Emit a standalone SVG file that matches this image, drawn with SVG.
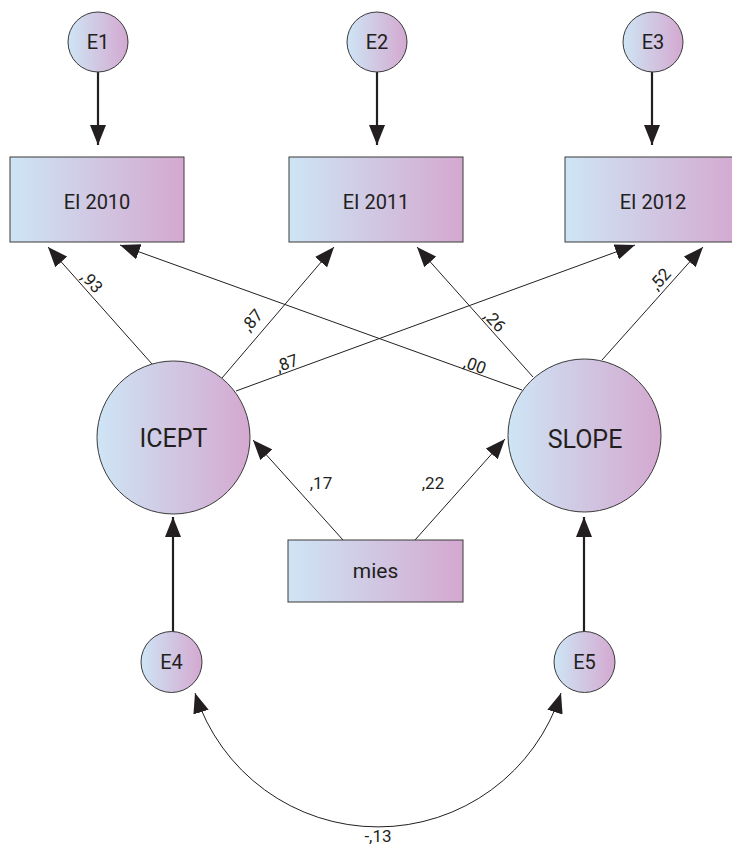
<svg xmlns="http://www.w3.org/2000/svg" width="732" height="848" viewBox="0 0 732 848">
<defs>
<linearGradient id="g" x1="0" y1="0" x2="1" y2="0">
<stop offset="0" stop-color="#cee5f5"/>
<stop offset="1" stop-color="#d4a8d0"/>
</linearGradient>
<marker id="ah" markerUnits="userSpaceOnUse" markerWidth="20" markerHeight="16" refX="20" refY="8" orient="auto-start-reverse" viewBox="0 0 20 16">
<path d="M0,0 L20,8 L0,16 Z" fill="#231f20"/>
</marker>
<style>
.n{fill:url(#g);stroke:#3a3a3a;stroke-width:1}
.t{font-family:Roboto,"Liberation Sans",sans-serif;fill:#231f20;text-anchor:middle}
.thin{fill:none;stroke:#231f20;stroke-width:1;marker-end:url(#ah)}
.thick{fill:none;stroke:#231f20;stroke-width:2.2;marker-end:url(#ah)}
.lb{font-family:Roboto,"Liberation Sans",sans-serif;fill:#231f20;font-size:17px;text-anchor:middle}
</style>
</defs>
<rect width="732" height="848" fill="#ffffff"/>

<g id="connectors">
<line class="thick" x1="98" y1="72" x2="98" y2="145"/>
<line class="thick" x1="377" y1="72" x2="377" y2="145"/>
<line class="thick" x1="652" y1="72" x2="652" y2="145"/>
<line class="thin" x1="152" y1="364" x2="48" y2="247"/>
<line class="thin" x1="222" y1="378" x2="334" y2="247"/>
<line class="thin" x1="236" y1="391" x2="635" y2="245"/>
<line class="thin" x1="522" y1="390" x2="120" y2="245"/>
<line class="thin" x1="533" y1="377" x2="417" y2="247"/>
<line class="thin" x1="602" y1="360" x2="703" y2="247"/>
<line class="thin" x1="343" y1="540" x2="253" y2="440"/>
<line class="thin" x1="415" y1="540" x2="505" y2="439"/>
<line class="thick" x1="173" y1="632" x2="173" y2="517"/>
<line class="thick" x1="584" y1="632" x2="584" y2="517"/>
<path class="thin" d="M195,693 A192,192 0 0 0 561,693" style="marker-start:url(#ah)"/>
<g id="labels">
<text class="lb" transform="translate(92,282) rotate(48)" y="6">,93</text>
<text class="lb" transform="translate(252,320) rotate(-49.5)" y="6">,87</text>
<text class="lb" transform="translate(287,363) rotate(-20)" y="6">,87</text>
<text class="lb" transform="translate(475,365) rotate(20)" y="6">,00</text>
<text class="lb" transform="translate(495,321) rotate(48)" y="6">,26</text>
<text class="lb" transform="translate(660,279) rotate(-48)" y="6">,52</text>
<text class="lb" x="321" y="489">,17</text>
<text class="lb" x="433" y="489">,22</text>
<text class="lb" x="378" y="842">-,13</text>
</g>
</g>

<g id="E1"><circle class="n" cx="98" cy="42" r="30"/><text class="t" x="98" y="49" font-size="20">E1</text></g>
<g id="E2"><circle class="n" cx="377" cy="42" r="30"/><text class="t" x="377" y="49" font-size="20">E2</text></g>
<g id="E3"><circle class="n" cx="653" cy="42" r="30"/><text class="t" x="653" y="49" font-size="20">E3</text></g>

<g id="EI2010"><rect class="n" x="10" y="157" width="174" height="85"/><text class="t" x="97" y="209" font-size="20">EI 2010</text></g>
<g id="EI2011"><rect class="n" x="289" y="157" width="174" height="85"/><text class="t" x="376" y="209" font-size="20">EI 2011</text></g>
<g id="EI2012"><rect class="n" x="565" y="157" width="176" height="85"/><text class="t" x="653" y="209" font-size="20">EI 2012</text></g>

<g id="ICEPT"><circle class="n" cx="173.5" cy="437.5" r="76.5"/><text class="t" x="173.5" y="447" font-size="25">ICEPT</text></g>
<g id="SLOPE"><circle class="n" cx="584.5" cy="435.5" r="76.5"/><text class="t" x="585" y="448" font-size="25">SLOPE</text></g>

<g id="mies"><rect class="n" x="288" y="540" width="175" height="62"/><text class="t" x="375.5" y="578" font-size="21">mies</text></g>

<g id="E4"><circle class="n" cx="171.5" cy="662" r="30.5"/><text class="t" x="171.5" y="669" font-size="20">E4</text></g>
<g id="E5"><circle class="n" cx="584.5" cy="662" r="30.5"/><text class="t" x="584.5" y="669" font-size="20">E5</text></g>
</svg>
